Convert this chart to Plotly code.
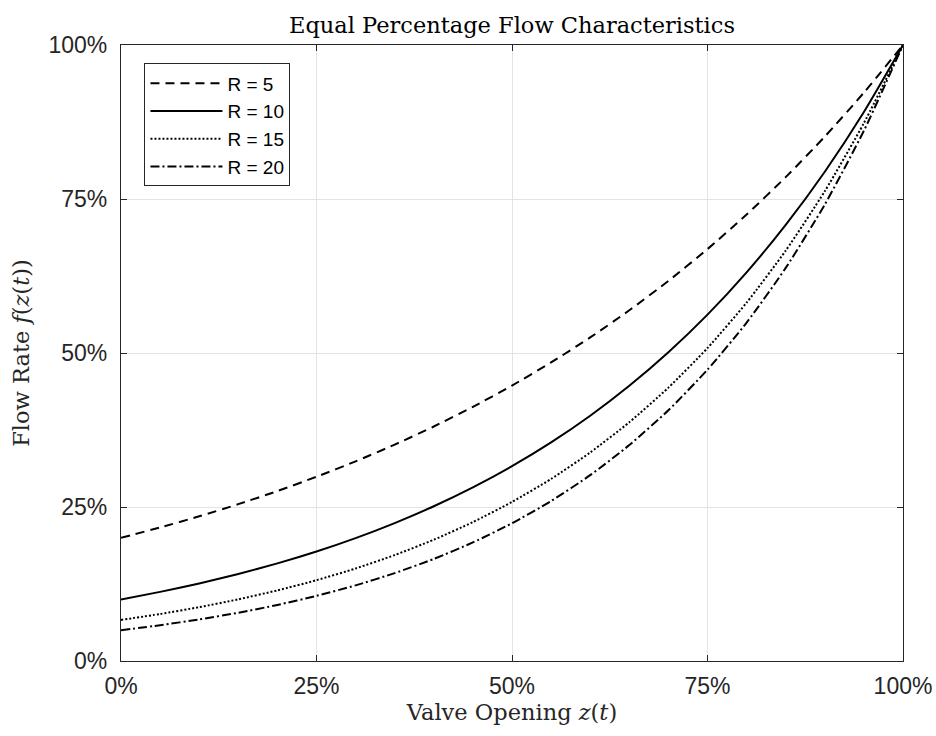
import plotly.graph_objects as go

# Valve opening (fraction of full travel)
opening = [0.00, 0.05, 0.10, 0.15, 0.20, 0.25, 0.30, 0.35, 0.40, 0.45, 0.50,
           0.55, 0.60, 0.65, 0.70, 0.75, 0.80, 0.85, 0.90, 0.95, 1.00]

# Relative flow for each rangeability R
flow_r5 = [0.2000, 0.2168, 0.2349, 0.2546, 0.2759, 0.2991, 0.3241, 0.3513, 0.3807, 0.4126, 0.4472,
           0.4847, 0.5253, 0.5693, 0.6170, 0.6687, 0.7248, 0.7855, 0.8513, 0.9227, 1.0000]
flow_r10 = [0.1000, 0.1122, 0.1259, 0.1413, 0.1585, 0.1778, 0.1995, 0.2239, 0.2512, 0.2818, 0.3162,
            0.3548, 0.3981, 0.4467, 0.5012, 0.5623, 0.6310, 0.7079, 0.7943, 0.8913, 1.0000]
flow_r15 = [0.0667, 0.0763, 0.0874, 0.1001, 0.1146, 0.1312, 0.1502, 0.1720, 0.1969, 0.2255, 0.2582,
            0.2956, 0.3385, 0.3876, 0.4438, 0.5081, 0.5818, 0.6662, 0.7627, 0.8733, 1.0000]
flow_r20 = [0.0500, 0.0581, 0.0675, 0.0784, 0.0910, 0.1057, 0.1228, 0.1427, 0.1657, 0.1925, 0.2236,
            0.2597, 0.3017, 0.3505, 0.4071, 0.4729, 0.5493, 0.6381, 0.7411, 0.8609, 1.0000]

series_names = ["R = 5", "R = 10", "R = 15", "R = 20"]
tick_vals = [0, 0.25, 0.5, 0.75, 1.0]
tick_text = ["0%", "25%", "50%", "75%", "100%"]

styles = ["9px,6px", "solid", "2px,2px", "9px,3px,2px,3px"]
series = [flow_r5, flow_r10, flow_r15, flow_r20]

SERIF = "DejaVu Serif, Liberation Serif, serif"
SANS = "Liberation Sans, Arial, sans-serif"

fig = go.Figure()
for name, ys, dash in zip(series_names, series, styles):
    fig.add_trace(go.Scatter(
        x=opening, y=ys, mode="lines", name=name,
        line=dict(color="black", width=2, dash=dash, shape="spline", smoothing=0.6),
    ))

axis_common = dict(
    range=[0, 1], tickvals=tick_vals, ticktext=tick_text,
    showgrid=True, gridcolor="#e3e3e3", gridwidth=1,
    showline=True, linecolor="#262626", linewidth=1.3, mirror="ticks",
    ticks="inside", ticklen=6, tickcolor="#262626",
    zeroline=False, automargin=False,
    tickfont=dict(family=SANS, size=23, color="#262626"),
)

fig.update_xaxes(**axis_common, ticklabelstandoff=4,
                 title=dict(text="Valve Opening <i>z</i>(<i>t</i>)",
                            font=dict(family=SERIF, size=22.5, color="#262626"),
                            standoff=4))
fig.update_yaxes(**axis_common, ticklabelstandoff=8,
                 title=dict(text="Flow Rate <i>f</i>(<i>z</i>(<i>t</i>))",
                            font=dict(family=SERIF, size=22.5, color="#262626"),
                            standoff=12))

fig.update_layout(
    width=936, height=736,
    margin=dict(l=121, r=33, t=45, b=75),
    paper_bgcolor="white", plot_bgcolor="white",
    title=dict(text="Equal Percentage Flow Characteristics",
               font=dict(family=SERIF, size=22.5, color="black"),
               x=0.5, xanchor="center", xref="paper", y=0.966, yanchor="middle"),
    legend=dict(x=0.03, y=0.97, xanchor="left", yanchor="top",
                bgcolor="white", bordercolor="#262626", borderwidth=1,
                font=dict(family=SANS, size=19, color="black"),
                tracegroupgap=0, itemwidth=72),
    showlegend=True,
)

fig.write_html("out.html")
